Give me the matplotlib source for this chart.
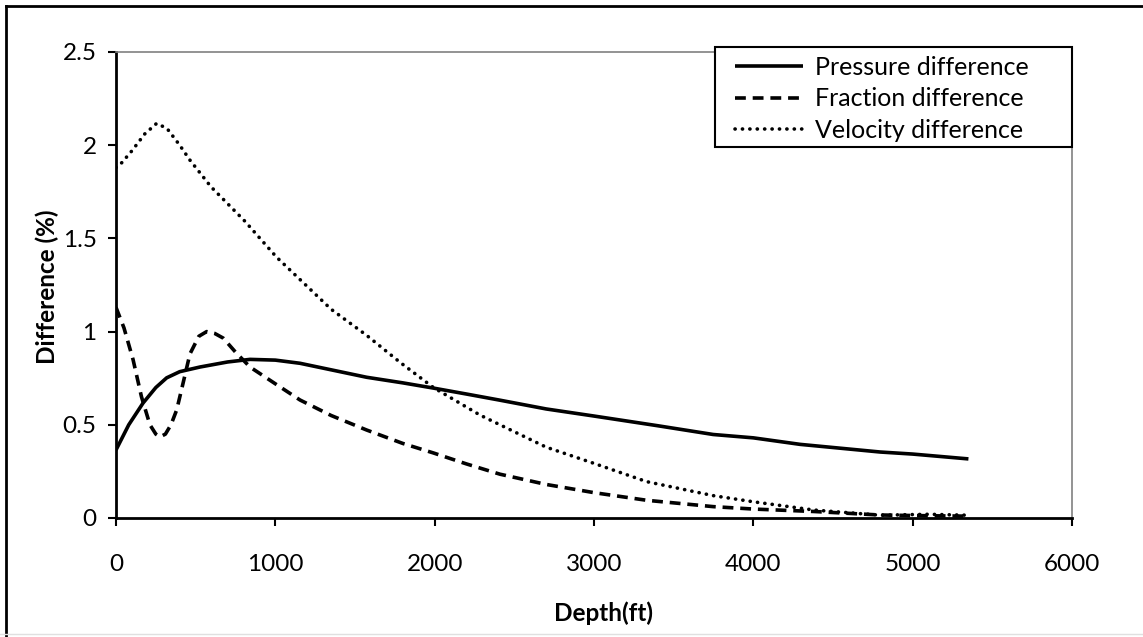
import matplotlib.pyplot as plt
from matplotlib.lines import Line2D
from matplotlib.patches import Rectangle


# values (depth in ft, difference in %)
pressure_depth = [0, 80, 170, 250, 318, 400, 527, 700, 841, 1000, 1155, 1350,
                  1573, 1800, 1992, 2200, 2410, 2700, 3000, 3400, 3748, 4000,
                  4294, 4796, 5000, 5350]
pressure_diff = [0.365, 0.50, 0.617, 0.70, 0.752, 0.785, 0.81, 0.837, 0.851,
                 0.847, 0.83, 0.795, 0.755, 0.725, 0.697, 0.665, 0.632, 0.585,
                 0.547, 0.495, 0.448, 0.43, 0.395, 0.354, 0.343, 0.317]

fraction_depth = [0, 50, 107, 160, 213, 250, 276, 310, 345, 381, 420, 464,
                  520, 569, 620, 673, 750, 841, 1000, 1155, 1350, 1573, 1800,
                  1992, 2200, 2410, 2700, 3000, 3331, 3748, 4000, 4378, 4796,
                  5100, 5340]
fraction_diff = [1.13, 1.02, 0.85, 0.65, 0.50, 0.45, 0.435, 0.45, 0.50, 0.58,
                 0.72, 0.88, 0.975, 1.0, 0.99, 0.965, 0.89, 0.81, 0.72, 0.633,
                 0.55, 0.472, 0.40, 0.349, 0.29, 0.235, 0.18, 0.136, 0.095,
                 0.061, 0.048, 0.035, 0.016, 0.012, 0.01]

velocity_depth = [0, 24, 100, 180, 255, 320, 400, 464, 596, 808, 1007, 1350,
                  1573, 1783, 1992, 2285, 2410, 2700, 3000, 3331, 3748, 4000,
                  4378, 4796, 5100, 5340]
velocity_diff = [1.88, 1.894, 1.97, 2.06, 2.117, 2.09, 2.0, 1.92, 1.777, 1.593,
                 1.40, 1.12, 0.98, 0.835, 0.70, 0.552, 0.50, 0.38, 0.293, 0.195,
                 0.12, 0.087, 0.043, 0.015, 0.02, 0.015]

x_ticks = [0, 1000, 2000, 3000, 4000, 5000, 6000]
y_ticks = [0, 0.5, 1, 1.5, 2, 2.5]
y_tick_labels = ["0", "0.5", "1", "1.5", "2", "2.5"]

plt.rcParams["font.family"] = ["Lato", "DejaVu Sans"]

W, H = 1143, 637
fig = plt.figure(figsize=(W / 100, H / 100), dpi=100)
ax = fig.add_axes([116 / W, 1 - 518 / H, (1072 - 116) / W, (518 - 52) / H])

lw = 2.6
ax.plot(pressure_depth, pressure_diff, color="black", linewidth=lw,
        solid_capstyle="butt", solid_joinstyle="round",
        label="Pressure difference")
ax.plot(fraction_depth, fraction_diff, color="black", linewidth=lw,
        linestyle=(0, (3.0, 1.9)), dash_capstyle="butt",
        label="Fraction difference")
ax.plot(velocity_depth, velocity_diff, color="black", linewidth=lw,
        linestyle=(0, (0.05, 2.0)), dash_capstyle="round",
        label="Velocity difference")

ax.set_xlim(0, 6000)
ax.set_ylim(0, 2.5)
ax.set_xticks(x_ticks)
ax.set_xticklabels([str(t) for t in x_ticks])
ax.set_yticks(y_ticks)
ax.set_yticklabels(y_tick_labels)
ax.tick_params(direction="out", length=6, width=1.5, labelsize=17.5,
               colors="black", pad=8)
ax.tick_params(axis="x", pad=20)

for side in ("left", "bottom"):
    ax.spines[side].set_linewidth(2)
    ax.spines[side].set_color("black")
for side in ("top", "right"):
    ax.spines[side].set_linewidth(1.2)
    ax.spines[side].set_color("#808080")

fig.text(603 / W, 1 - 613 / H, "Depth(ft)", ha="center", va="center",
         fontsize=17.5, fontweight="bold")
fig.text(47 / W, 1 - 287 / H, "Difference (%)", ha="center", va="center",
         rotation=90, fontsize=17.5, fontweight="bold")

# legend frame drawn apart: Excel leaves a wide gap on the right
ax.add_patch(Rectangle((715 / W, 1 - 147 / H), (1072 - 715) / W, 100 / H,
                       transform=fig.transFigure, facecolor="white",
                       edgecolor="black", linewidth=1.5, clip_on=False,
                       zorder=4))
leg = ax.legend(loc="upper left", bbox_to_anchor=(730 / W, 1 - 51 / H),
                bbox_transform=fig.transFigure, borderaxespad=0,
                fontsize=18, frameon=False, handlelength=2.7,
                handletextpad=0.5, labelspacing=0.33, borderpad=0.2)
leg.set_zorder(5)

# chart area outline
fig.add_artist(Line2D([6 / W, 1], [1 - 6 / H, 1 - 6 / H],
                      transform=fig.transFigure, color="black", linewidth=2))
fig.add_artist(Line2D([6 / W, 6 / W], [1 - 6 / H, 0],
                      transform=fig.transFigure, color="black", linewidth=2))
fig.add_artist(Line2D([0, 1], [1 - 634 / H, 1 - 634 / H],
                      transform=fig.transFigure, color="#e0e0e0", linewidth=1))

fig.savefig("out.png", dpi=100)
